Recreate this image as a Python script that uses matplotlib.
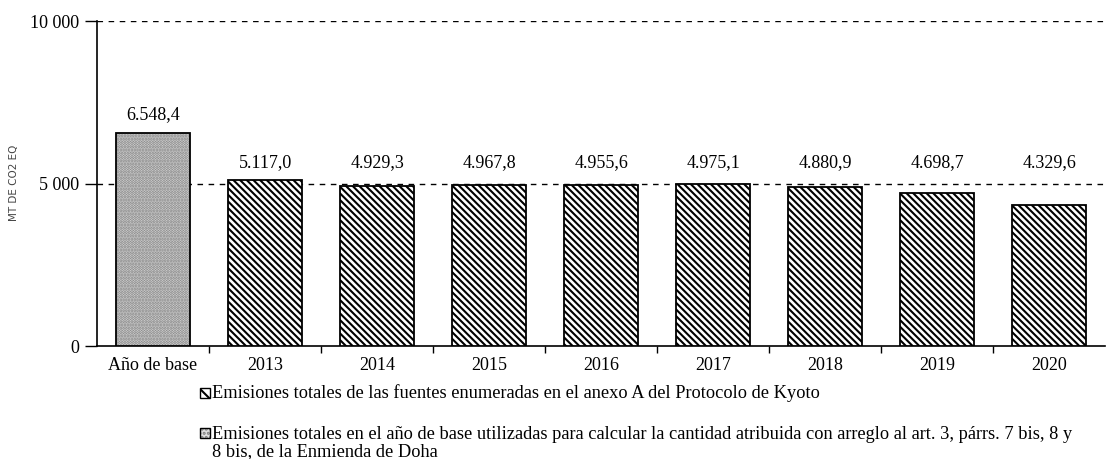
import matplotlib.pyplot as plt
import matplotlib.patches as mpatches
import numpy as np

plt.rcParams['hatch.linewidth'] = 1.5

# data
categories = ["Año de base", "2013", "2014", "2015", "2016", "2017", "2018", "2019", "2020"]
values = [6548.4, 5117.0, 4929.3, 4967.8, 4955.6, 4975.1, 4880.9, 4698.7, 4329.6]
value_labels = ["6.548,4", "5.117,0", "4.929,3", "4.967,8", "4.955,6",
                "4.975,1", "4.880,9", "4.698,7", "4.329,6"]
y_ticks = [0, 5000, 10000]
y_tick_labels = ["0", "5 000", "10 000"]
legend_labels = [
    "Emisiones totales de las fuentes enumeradas en el anexo A del Protocolo de Kyoto",
    "Emisiones totales en el año de base utilizadas para calcular la cantidad atribuida con arreglo al art. 3, párrs. 7 bis, 8 y\n8 bis, de la Enmienda de Doha",
]

serif = "Liberation Serif"
fs = 13
diag = "\\" * 5
dots = "......"
dot_face = "#dedede"
dot_col = "#7c7c7c"

fig = plt.figure(figsize=(11.07, 4.59), dpi=100)
ax = fig.add_axes([0.0876, 0.246, 0.911, 0.708])

x = np.arange(len(categories))
# year labels all sit at one common height, base label just above its bar
year_label_y = max(values[1:]) + 540
for i, (xi, v) in enumerate(zip(x, values)):
    if i == 0:
        ax.bar(xi, v, width=0.66, facecolor=dot_face, edgecolor=dot_col,
               hatch=dots, linewidth=0, zorder=3)
        ax.bar(xi, v, width=0.66, facecolor="none", edgecolor="black",
               linewidth=1.3, zorder=4)
        ly = v + 560
    else:
        ax.bar(xi, v, width=0.66, facecolor="white", edgecolor="black",
               hatch=diag, linewidth=1.3, zorder=3)
        ly = year_label_y
    ax.text(xi, ly, value_labels[i], ha="center", va="center",
            family=serif, fontsize=fs)

ax.set_xlim(-0.5, len(categories) - 0.5)
ax.set_ylim(0, 10000)

# dashed gridlines
for yv in [5000, 10000]:
    ax.axhline(yv, color="black", linestyle=(0, (4, 4)), linewidth=1.0, zorder=1)

ax.set_yticks(y_ticks)
ax.set_yticklabels(y_tick_labels, family=serif, fontsize=fs)
ax.set_xticks(x)
ax.set_xticklabels(categories, family=serif, fontsize=fs)
ax.tick_params(axis="x", length=0, pad=8)
ax.set_xticks(np.arange(0.5, len(categories) - 0.5, 1), minor=True)
ax.tick_params(axis="x", which="minor", length=5, width=1)
ax.tick_params(axis="y", length=9, width=1, pad=4)

for s in ["top", "right"]:
    ax.spines[s].set_visible(False)
ax.spines["left"].set_linewidth(1.2)
ax.spines["bottom"].set_linewidth(1.2)

W, H = 1107, 459
fig.text(14 / W, 1 - 183 / H, "MT DE CO2 EQ", rotation=90, ha="center", va="center",
         fontsize=7.5, color="#444444", family="DejaVu Sans")

# legend drawn by hand so the second swatch aligns with the first text line
def swatch(px, py, face, edge, hatch, frame=True):
    r = mpatches.Rectangle((px / W, 1 - (py + 5) / H), 10 / W, 10 / H,
                           transform=fig.transFigure, facecolor=face,
                           edgecolor=edge, hatch=hatch, linewidth=0 if not frame else 1.0)
    fig.add_artist(r)

swatch(200, 393, "white", "black", "\\\\\\")
fig.text(212 / W, 1 - 393 / H, legend_labels[0], ha="left", va="center",
         family=serif, fontsize=13.2)

swatch(200, 433, dot_face, dot_col, "....", frame=False)
swatch(200, 433, "none", "black", None)
fig.text(212 / W, 1 - 426 / H, legend_labels[1], ha="left", va="top",
         family=serif, fontsize=13.2, linespacing=1.0)

fig.savefig("out.png", dpi=100)
